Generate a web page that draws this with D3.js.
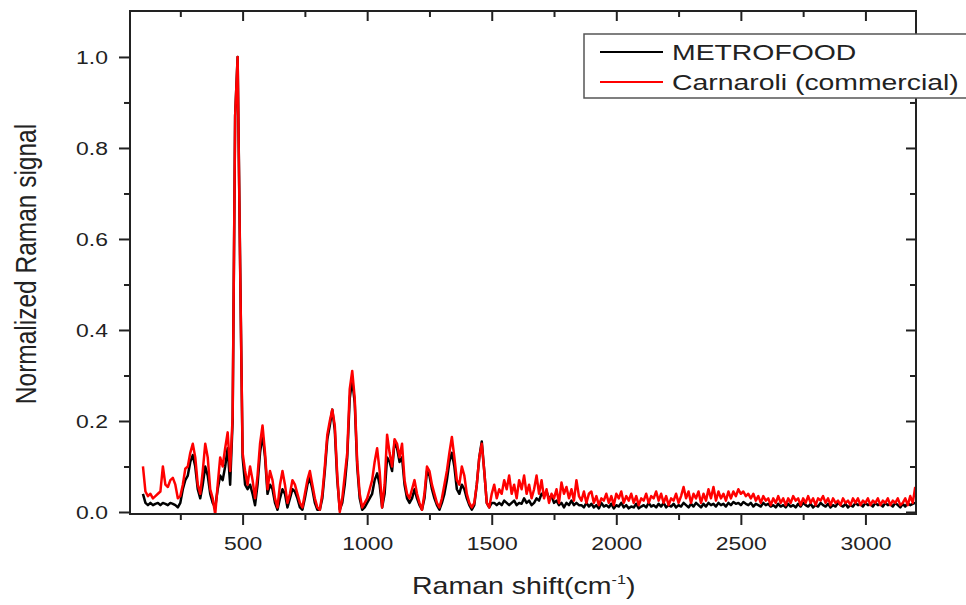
<!DOCTYPE html>
<html>
<head>
<meta charset="utf-8">
<script src="https://cdn.jsdelivr.net/npm/d3@7"></script>
<style>
  body { margin: 0; background: #fff; }
  svg { display: block; font-family: "Liberation Sans", Arial, sans-serif; }
</style>
</head>
<body>
<div id="chart"></div>
<script>
// Spectra every 10 cm-1, from 100 to 3200 cm-1
const shiftStart = 100;
const shiftStep = 10;

// METROFOOD reference rice (black)
const metrofood = [
  0.040,0.020,0.015,0.020,0.015,0.018,0.020,0.015,0.020,0.018,
  0.015,0.020,0.018,0.015,0.010,0.020,0.050,0.070,0.080,0.110,
  0.125,0.100,0.050,0.030,0.060,0.100,0.080,0.040,0.020,0.010,
  0.050,0.080,0.070,0.100,0.140,0.060,0.200,0.870,1.000,0.550,
  0.120,0.060,0.050,0.060,0.040,0.015,0.060,0.130,0.170,0.120,
  0.040,0.060,0.050,0.020,0.005,0.030,0.050,0.040,0.010,0.030,
  0.050,0.045,0.030,0.010,0.005,0.030,0.060,0.075,0.050,0.020,
  0.005,0.005,0.030,0.090,0.160,0.190,0.225,0.180,0.070,0.005,
  0.020,0.060,0.120,0.250,0.290,0.240,0.100,0.030,0.005,0.010,
  0.020,0.030,0.040,0.070,0.085,0.060,0.010,0.040,0.120,0.110,
  0.090,0.155,0.140,0.110,0.120,0.060,0.030,0.020,0.030,0.050,
  0.030,0.015,0.005,0.030,0.090,0.080,0.050,0.030,0.015,0.005,
  0.020,0.040,0.070,0.110,0.130,0.100,0.050,0.040,0.060,0.050,
  0.030,0.015,0.005,0.015,0.060,0.120,0.155,0.090,0.020,0.010,
  0.020,0.020,0.015,0.020,0.015,0.025,0.020,0.015,0.020,0.025,
  0.015,0.020,0.018,0.030,0.020,0.025,0.015,0.020,0.030,0.025,
  0.040,0.035,0.045,0.030,0.035,0.020,0.025,0.015,0.020,0.010,
  0.020,0.015,0.025,0.015,0.020,0.015,0.015,0.010,0.020,0.012,
  0.018,0.010,0.015,0.008,0.020,0.012,0.015,0.010,0.018,0.008,
  0.015,0.012,0.020,0.010,0.015,0.008,0.012,0.010,0.018,0.008,
  0.012,0.015,0.010,0.020,0.012,0.015,0.010,0.018,0.012,0.020,
  0.010,0.015,0.012,0.018,0.010,0.015,0.012,0.020,0.015,0.010,
  0.018,0.012,0.020,0.015,0.010,0.018,0.012,0.020,0.015,0.018,
  0.012,0.020,0.015,0.018,0.012,0.020,0.015,0.022,0.018,0.020,
  0.015,0.022,0.018,0.015,0.020,0.012,0.018,0.015,0.012,0.020,
  0.015,0.018,0.012,0.015,0.010,0.018,0.012,0.015,0.010,0.018,
  0.012,0.015,0.010,0.018,0.012,0.020,0.015,0.012,0.018,0.010,
  0.015,0.012,0.020,0.015,0.012,0.018,0.010,0.015,0.012,0.020,
  0.015,0.012,0.018,0.010,0.015,0.012,0.020,0.015,0.018,0.012,
  0.020,0.015,0.018,0.012,0.020,0.015,0.018,0.012,0.020,0.015,
  0.018,0.012,0.020,0.015,0.010,0.018,0.012,0.020,0.015,0.018,
  0.020
];

// Carnaroli commercial rice (red)
const carnaroli = [
  0.100,0.045,0.035,0.040,0.030,0.035,0.040,0.045,0.100,0.060,
  0.055,0.070,0.075,0.060,0.030,0.035,0.060,0.095,0.100,0.130,
  0.150,0.120,0.060,0.040,0.090,0.150,0.120,0.050,0.030,-0.005,
  0.060,0.120,0.100,0.140,0.175,0.090,0.210,0.870,1.000,0.540,
  0.130,0.090,0.060,0.100,0.070,0.030,0.080,0.150,0.190,0.130,
  0.050,0.090,0.070,0.030,0.010,0.060,0.090,0.060,0.020,0.040,
  0.070,0.060,0.040,0.020,0.010,0.040,0.070,0.090,0.060,0.030,
  0.010,0.005,0.040,0.100,0.170,0.200,0.225,0.190,0.080,0.000,
  0.030,0.080,0.130,0.270,0.310,0.250,0.110,0.040,0.010,0.020,
  0.030,0.050,0.070,0.110,0.140,0.090,0.010,0.060,0.170,0.130,
  0.100,0.160,0.150,0.120,0.150,0.070,0.040,0.030,0.050,0.070,
  0.040,0.020,0.005,0.040,0.100,0.090,0.060,0.040,0.020,0.010,
  0.030,0.060,0.090,0.130,0.165,0.120,0.070,0.060,0.100,0.080,
  0.040,0.020,0.010,0.020,0.060,0.120,0.150,0.090,0.020,0.010,
  0.040,0.060,0.030,0.050,0.040,0.070,0.050,0.080,0.040,0.060,
  0.030,0.070,0.050,0.080,0.040,0.060,0.030,0.050,0.080,0.040,
  0.070,0.030,0.050,0.020,0.040,0.030,0.050,0.020,0.065,0.040,
  0.055,0.030,0.050,0.025,0.070,0.035,0.025,0.045,0.020,0.040,
  0.045,0.020,0.035,0.015,0.030,0.025,0.040,0.020,0.035,0.015,
  0.040,0.030,0.045,0.020,0.035,0.025,0.040,0.020,0.035,0.015,
  0.030,0.025,0.040,0.020,0.035,0.030,0.045,0.025,0.040,0.020,
  0.035,0.015,0.030,0.025,0.040,0.020,0.035,0.055,0.030,0.045,
  0.020,0.040,0.030,0.045,0.020,0.040,0.025,0.050,0.030,0.055,
  0.025,0.045,0.030,0.040,0.025,0.045,0.030,0.045,0.035,0.050,
  0.040,0.045,0.035,0.040,0.030,0.040,0.025,0.035,0.020,0.035,
  0.025,0.030,0.015,0.030,0.020,0.035,0.020,0.030,0.015,0.030,
  0.020,0.035,0.025,0.030,0.015,0.030,0.020,0.035,0.020,0.030,
  0.015,0.030,0.025,0.035,0.020,0.030,0.015,0.030,0.020,0.025,
  0.015,0.030,0.020,0.025,0.015,0.030,0.020,0.030,0.015,0.025,
  0.020,0.030,0.015,0.025,0.020,0.030,0.015,0.025,0.020,0.030,
  0.015,0.025,0.020,0.030,0.015,0.020,0.030,0.015,0.035,0.020,
  0.055
];

const xTicks = [500, 1000, 1500, 2000, 2500, 3000];
const xMinorTicks = [250, 750, 1250, 1750, 2250, 2750];
const yTicks = [0.0, 0.2, 0.4, 0.6, 0.8, 1.0];
const yMinorTicks = [0.1, 0.3, 0.5, 0.7, 0.9];
const seriesNames = ["METROFOOD", "Carnaroli (commercial)"];
const seriesColors = ["#000000", "#ff0000"];

const shifts = metrofood.map((_, i) => shiftStart + i * shiftStep);

const width = 966;
const height = 605;
const plot = { left: 130, right: 916, top: 11, bottom: 514 };
const stretch = 1.24; // the source figure's lettering is widened horizontally
const ink = "#222";

const svg = d3.select("#chart").append("svg")
  .attr("width", width)
  .attr("height", height)
  .style("background", "#fff");

const x = d3.scaleLinear().domain([48, 3203]).range([plot.left, plot.right]);
const y = d3.scaleLinear().domain([-0.0044, 1.101]).range([plot.bottom, plot.top]);

svg.append("defs").append("clipPath").attr("id", "plot-clip")
  .append("rect")
  .attr("x", plot.left).attr("y", plot.top)
  .attr("width", plot.right - plot.left)
  .attr("height", plot.bottom - plot.top);

// Spectra (black under red)
const line = d3.line()
  .x((d, i) => x(shifts[i]))
  .y(d => y(d));

[metrofood, carnaroli].forEach((series, k) => {
  svg.append("path")
    .datum(series)
    .attr("clip-path", "url(#plot-clip)")
    .attr("fill", "none")
    .attr("stroke", seriesColors[k])
    .attr("stroke-width", 2.5)
    .attr("stroke-linejoin", "round")
    .attr("d", line);
});

// Axes: outward ticks bottom/left, mirrored inward ticks top/right
function styleAxis(g) {
  g.select(".domain").remove();
  g.selectAll("line").attr("stroke", ink).attr("stroke-width", 2);
}

function addAxis(axis, tx, ty) {
  return svg.append("g")
    .attr("transform", `translate(${tx},${ty})`)
    .call(axis)
    .call(styleAxis);
}

const bottomAxis = addAxis(
  d3.axisBottom(x).tickValues(xTicks).tickSize(11).tickFormat(d3.format("d")),
  0, plot.bottom);
bottomAxis.selectAll("text")
  .attr("y", 36).attr("dy", 0)
  .attr("transform", `scale(${stretch},1)`)
  .attr("fill", ink)
  .style("font-size", "18.5px");

addAxis(d3.axisBottom(x).tickValues(xMinorTicks).tickSize(6).tickFormat(""), 0, plot.bottom);
addAxis(d3.axisBottom(x).tickValues(xTicks).tickSize(10).tickFormat(""), 0, plot.top);
addAxis(d3.axisBottom(x).tickValues(xMinorTicks).tickSize(6).tickFormat(""), 0, plot.top);

const leftAxis = addAxis(
  d3.axisLeft(y).tickValues(yTicks).tickSize(11).tickFormat(d3.format(".1f")),
  plot.left, 0);
leftAxis.selectAll("text")
  .attr("x", -22 / stretch).attr("dy", "0.36em")
  .attr("transform", `scale(${stretch},1)`)
  .attr("fill", ink)
  .style("font-size", "18.5px");

addAxis(d3.axisLeft(y).tickValues(yMinorTicks).tickSize(6).tickFormat(""), plot.left, 0);
addAxis(d3.axisLeft(y).tickValues(yTicks).tickSize(10).tickFormat(""), plot.right, 0);
addAxis(d3.axisLeft(y).tickValues(yMinorTicks).tickSize(6).tickFormat(""), plot.right, 0);

// Frame
svg.append("rect")
  .attr("x", plot.left).attr("y", plot.top)
  .attr("width", plot.right - plot.left)
  .attr("height", plot.bottom - plot.top)
  .attr("fill", "none")
  .attr("stroke", ink)
  .attr("stroke-width", 2);

// Axis titles
const xTitle = svg.append("g")
  .attr("transform", `translate(412,594) scale(${stretch},1)`)
  .append("text")
  .attr("fill", ink)
  .style("font-size", "23px");
xTitle.append("tspan").text("Raman shift(cm");
xTitle.append("tspan").attr("dy", -10).style("font-size", "13px").text("-1");
xTitle.append("tspan").attr("dy", 10).text(")");

svg.append("g")
  .attr("transform", `translate(36,264) scale(${stretch},1) rotate(-90)`)
  .append("text")
  .attr("text-anchor", "middle")
  .attr("fill", ink)
  .style("font-size", "24.5px")
  .text("Normalized Raman signal");

// Legend
const legend = svg.append("g");
legend.append("rect")
  .attr("x", 584).attr("y", 34)
  .attr("width", 420).attr("height", 64)
  .attr("fill", "#fff")
  .attr("stroke", "#555")
  .attr("stroke-width", 1.5);

seriesNames.forEach((name, k) => {
  const ly = 52 + k * 30;
  legend.append("line")
    .attr("x1", 600).attr("x2", 663)
    .attr("y1", ly).attr("y2", ly)
    .attr("stroke", seriesColors[k])
    .attr("stroke-width", 2);
  legend.append("g")
    .attr("transform", `translate(672,${ly + 6}) scale(1.29,1)`)
    .append("text")
    .attr("dy", "0.1em")
    .attr("fill", ink)
    .style("font-size", "22px")
    .text(name);
});
</script>
</body>
</html>
